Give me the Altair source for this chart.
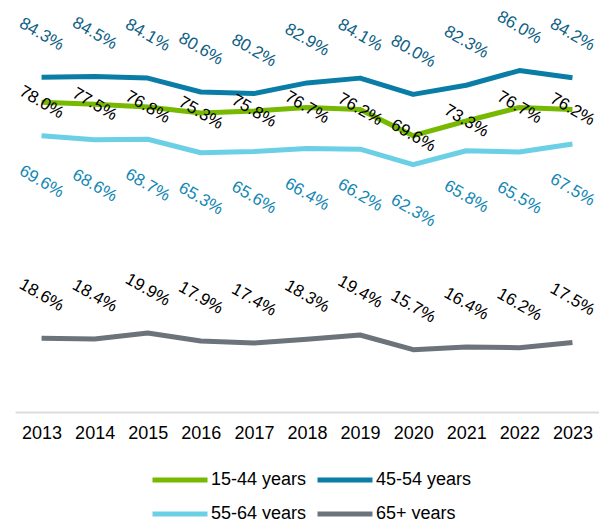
import altair as alt
import pandas as pd

years = [2013, 2014, 2015, 2016, 2017, 2018, 2019, 2020, 2021, 2022, 2023]
series_names = ["15-44 years", "45-54 years", "55-64 years", "65+ years"]
v_15_44 = [78.0, 77.5, 76.8, 75.3, 75.8, 76.7, 76.2, 69.6, 73.3, 76.7, 76.2]
v_45_54 = [84.3, 84.5, 84.1, 80.6, 80.2, 82.9, 84.1, 80.0, 82.3, 86.0, 84.2]
v_55_64 = [69.6, 68.6, 68.7, 65.3, 65.6, 66.4, 66.2, 62.3, 65.8, 65.5, 67.5]
v_65p = [18.6, 18.4, 19.9, 17.9, 17.4, 18.3, 19.4, 15.7, 16.4, 16.2, 17.5]

line_colors = ["#76B900", "#0A7DA6", "#6BCFE6", "#6D737A"]
label_colors = ["#000000", "#0F5F85", "#1387B3", "#000000"]
label_offsets = [0, -43, 46, -43]

values = [v_15_44, v_45_54, v_55_64, v_65p]
rows = []
for name, vals in zip(series_names, values):
    for y, v in zip(years, vals):
        rows.append({"year": y, "series": name, "value": v, "label": f"{v:.1f}%"})
df = pd.DataFrame(rows)

FONT = "Liberation Sans"

x_enc = alt.X("year:Q", scale=alt.Scale(domain=[2012.5, 2023.5], nice=False, zero=False),
              axis=alt.Axis(values=years, format="d", title=None, ticks=False, grid=False,
                            labelFontSize=18, labelFont=FONT, labelColor="#000000",
                            labelPadding=12, domainColor="#D9DDE0", domainWidth=2,
                            labelFlush=False, labelOverlap=False))
y_enc = alt.Y("value:Q", scale=alt.Scale(domain=[0, 100], nice=False), axis=None)

lines = alt.Chart(df).mark_line(strokeWidth=5, strokeJoin="round").encode(
    x=x_enc,
    y=y_enc,
    color=alt.Color("series:N",
                    scale=alt.Scale(domain=series_names, range=line_colors),
                    legend=alt.Legend(title=None, orient="none", legendX=134, legendY=456,
                                      direction="horizontal",
                                      columns=2, symbolType="M-5,0H5", symbolSize=121,
                                      symbolOffset=22,
                                      symbolStrokeWidth=5, labelFontSize=18, labelFont=FONT,
                                      labelColor="#000000", labelOffset=22, columnPadding=0,
                                      rowPadding=14, padding=0)),
    detail="series:N",
)

layers = [lines]
for name, col, off in zip(series_names, label_colors, label_offsets):
    t = alt.Chart(df).transform_filter(alt.datum.series == name).mark_text(
        angle=30, align="center", baseline="middle", fontSize=17, font=FONT,
        color=col, yOffset=off
    ).encode(x=alt.X("year:Q"), y=alt.Y("value:Q"), text="label:N")
    layers.append(t)

chart = alt.layer(*layers).properties(
    width=584, height=397,
    autosize=alt.AutoSizeParams(type="none"),
    padding={"left": 7, "top": 7, "right": 0, "bottom": 107},
).configure_view(stroke=None)

chart.save("out.html", embed_options={"renderer": "svg", "actions": False})
